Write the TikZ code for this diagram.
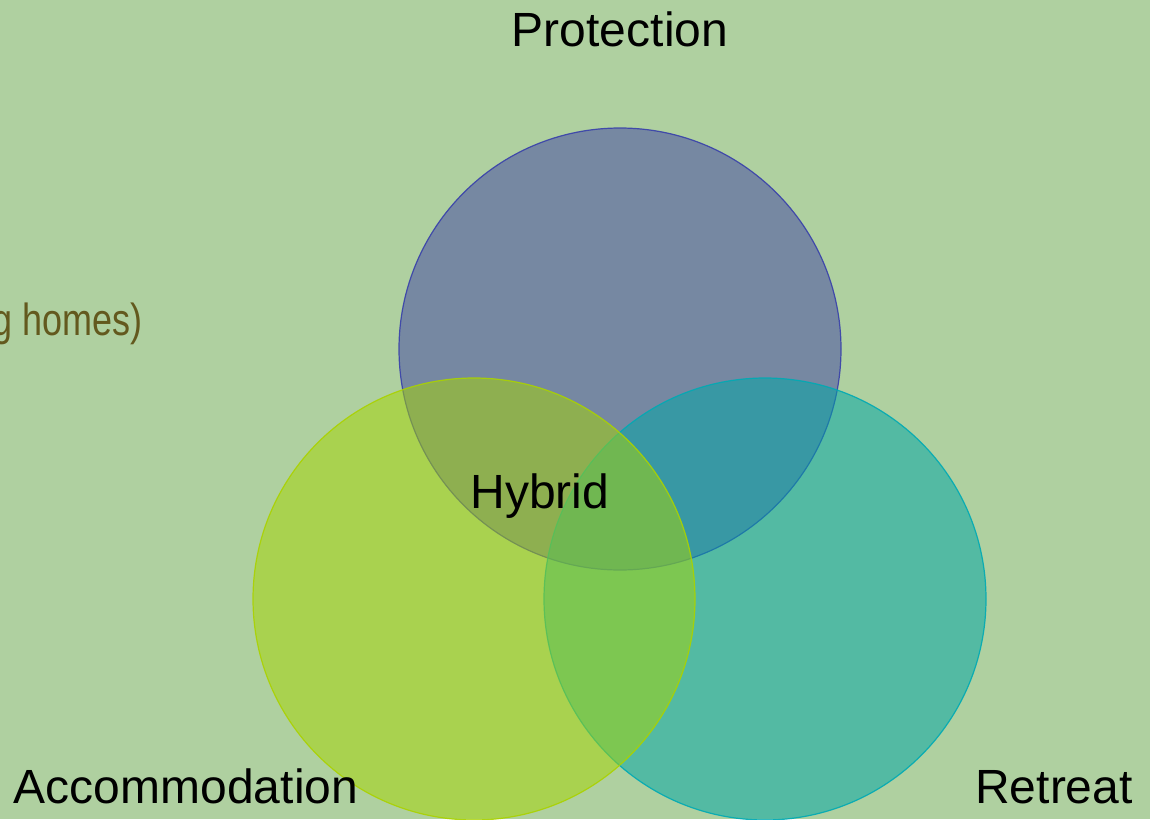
\documentclass[tikz,border=0pt]{standalone}
\usepackage{fontspec}
\setmainfont{Liberation Sans}
\newlength{\du}
\setlength{\du}{0.5pt}
\tikzset{
  setname/.style={fill opacity=0.52, draw opacity=0.9},
  setlabel/.style={anchor=base, inner sep=0pt, font=\fontsize{24}{28}\selectfont}
}

\begin{document}
\begin{tikzpicture}
\pgftransformxscale{1.000000}
\pgftransformyscale{-1.000000}
\definecolor{dialinecolor}{rgb}{0.686275, 0.815686, 0.627451}
\pgfsetfillcolor{dialinecolor}
\fill (0.000000\du,0.000000\du) rectangle (1150.000000\du,819.000000\du);
\useasboundingbox (0.000000\du,0.000000\du) rectangle (1150.000000\du,819.000000\du);
\pgfsetlinewidth{1.200000\du}
\pgfsetdash{}{0pt}
% protection
{
\definecolor{dialinecolor}{rgb}{0.262745, 0.278431, 0.647059}
\pgfsetfillcolor{dialinecolor}
\definecolor{dialinecolor}{rgb}{0.219608, 0.250980, 0.666667}
\pgfsetstrokecolor{dialinecolor}
\filldraw[setname] (620.000000\du,349.000000\du) circle (221.000000\du);
}
% retreat
{
\definecolor{dialinecolor}{rgb}{0.000000, 0.654902, 0.654902}
\pgfsetfillcolor{dialinecolor}
\definecolor{dialinecolor}{rgb}{0.000000, 0.666667, 0.705882}
\pgfsetstrokecolor{dialinecolor}
\filldraw[setname] (765.000000\du,599.000000\du) circle (221.000000\du);
}
% accommodation
{
\definecolor{dialinecolor}{rgb}{0.647059, 0.831373, 0.023529}
\pgfsetfillcolor{dialinecolor}
\definecolor{dialinecolor}{rgb}{0.666667, 0.823529, 0.000000}
\pgfsetstrokecolor{dialinecolor}
\filldraw[setname] (474.000000\du,599.000000\du) circle (221.000000\du);
}
% labels
\node[setlabel] (protection) at (620.000000\du,46.000000\du){Protection};
\node[setlabel] (hybrid) at (540.000000\du,508.000000\du){Hybrid};
\node[setlabel] (accommodation) at (186.000000\du,803.000000\du){Accommodation};
\node[setlabel] (retreat) at (1054.000000\du,803.000000\du){Retreat};
\definecolor{dialinecolor}{rgb}{0.388235, 0.349020, 0.117647}
\node[setlabel, anchor=base east, text=dialinecolor, font=\fontsize{22.5}{26}\selectfont] (homes) at (143.000000\du,335.000000\du){\scalebox{0.8}[1]{g homes)}};
\end{tikzpicture}
\end{document}
